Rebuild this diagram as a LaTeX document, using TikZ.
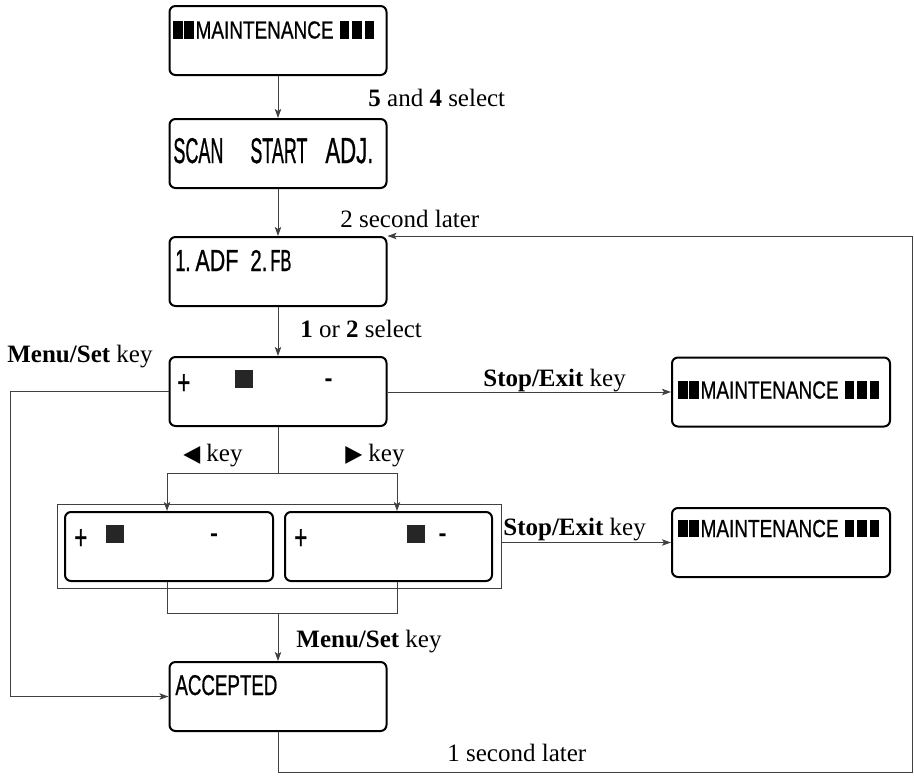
\documentclass[tikz,border=0pt]{standalone}
\usepackage{fontspec}
\usepackage{graphicx}
\setmainfont{Liberation Serif}
\newfontface\lcd{Liberation Sans}[FakeBold=1]
\newfontface\lcdb{Liberation Sans Bold}
\newfontfamily\dvs{DejaVu Sans}
\usetikzlibrary{arrows.meta}

\newcommand{\mbar}{\rule{4.75pt}{8.6pt}}
\newcommand{\maint}{\mbar\hspace{0.75pt}\mbar\hspace{0.85pt}\resizebox{69pt}{8.6pt}{\lcd MAINTENANCE}\hspace{3pt}\mbar\hspace{1.5pt}\mbar\hspace{1.5pt}\mbar}
\newcommand{\lplus}{\scalebox{0.65}[1]{\lcd\fontsize{17}{17}\selectfont +}}
\newcommand{\lminus}{{\lcdb\fontsize{12}{12}\selectfont -}}

\begin{document}
\begin{tikzpicture}[x=0.5pt,y=-0.5pt,
  lcdbox/.style={draw=black,line width=1pt,rounded corners=3pt,minimum width=108.5pt,minimum height=34.5pt,inner sep=0pt},
  conn/.style={draw=black!75,line width=0.5pt},
  arr/.style={conn,-{Stealth[length=4.5pt,width=3.2pt,inset=1pt]}},
  txt/.style={anchor=base west,inner sep=0pt,font=\fontsize{12.5}{15}\selectfont},
  lcdtxt/.style={anchor=base west,inner sep=0pt},
  sq/.style={fill=black!85,minimum size=9pt,inner sep=0pt},
  minusmark/.style={anchor=base,inner sep=0pt}]
\useasboundingbox (0,0) rectangle (914,776);

% boxes
\node[lcdbox] (b1) at (278,40.5) {};
\node[lcdbox] (b2) at (278,153.5) {};
\node[lcdbox] (b3) at (278,271.5) {};
\node[lcdbox] (b4) at (278,391.5) {};
\node[lcdbox,minimum width=109pt] (b5) at (781,392) {};
\node[lcdbox,minimum width=109pt] (b6) at (781,542.5) {};
\node[draw=black!75,line width=0.5pt,minimum width=222pt,minimum height=42pt,inner sep=0pt] (grp) at (279,546) {};
\node[lcdbox,minimum width=104pt] (s1) at (169,546.5) {};
\node[lcdbox,minimum width=103.5pt] (s2) at (388.5,546.5) {};
\node[lcdbox] (acc) at (278,696.5) {};

% box texts
\node[lcdtxt] (t1) at (173,38.5) {\maint};
\node[lcdtxt] (t5) at (678,398.5) {\maint};
\node[lcdtxt] (t6) at (678,537) {\maint};
\node[lcdtxt] (t2) at (173,163) {\lcd\resizebox{25pt}{12.5pt}{SCAN}\hspace{13.5pt}\resizebox{28.5pt}{12.5pt}{START}\hspace{9pt}\resizebox{24pt}{12.5pt}{ADJ.}};
\node[lcdtxt] (t3) at (175,271) {\lcd\resizebox{7.5pt}{10.5pt}{1.}\hspace{2.5pt}\resizebox{21.5pt}{10.5pt}{ADF}\hspace{6pt}\resizebox{8.5pt}{10.5pt}{2.}\hspace{1.5pt}\resizebox{10.5pt}{10.5pt}{FB}};
\node[lcdtxt] (t7) at (175,695) {\lcd\resizebox{51pt}{10pt}{ACCEPTED}};

\node[lcdtxt] (p4) at (177,394) {\lplus};
\node[sq] (q4) at (244,379) {};
\node[minusmark] (m4) at (328.5,386) {\lminus};
\node[lcdtxt] (p1) at (74,549) {\lplus};
\node[sq] (q1) at (114.5,534) {};
\node[minusmark] (m1) at (214,541) {\lminus};
\node[lcdtxt] (p2) at (294,549) {\lplus};
\node[sq] (q2) at (416,534) {};
\node[minusmark] (m2) at (442.5,541) {\lminus};

% labels
\node[txt] (l1) at (368,106) {\textbf{5} and \textbf{4} select};
\node[txt] (l2) at (340,227) {2 second later};
\node[txt] (l3) at (300,337) {\textbf{1} or \textbf{2} select};
\node[txt] (l4) at (7,362) {\textbf{Menu/Set} key};
\node[txt] (l5) at (483,386) {\textbf{Stop/Exit} key};
\node[txt] (l6) at (183,461) {\resizebox{8.5pt}{7.5pt}{\dvs ◀}\hspace{3pt}key};
\node[txt] (l7) at (345,461) {\resizebox{8.5pt}{7.5pt}{\dvs ▶}\hspace{3pt}key};
\node[txt] (l8) at (503,535) {\textbf{Stop/Exit} key};
\node[txt] (l9) at (296,647) {\textbf{Menu/Set} key};
\node[txt] (l10) at (447,761) {1 second later};

% connectors
\draw[arr] (b1.south) -- (b2.north);
\draw[arr] (b2.south) -- (b3.north);
\draw[arr] (b3.south) -- (b4.north);
\draw[arr] (b4.east |- b5.west) -- (b5.west);
\draw[arr] (grp.east |- b6.west) -- (b6.west);
\coordinate (lx) at (10,0);
\draw[arr] (b4.west) -- (b4.west -| lx) -- (lx |- acc.west) -- (acc.west);
\coordinate (sp) at (278,473);
\coordinate (la) at (167,473);
\coordinate (ra) at (397,473);
\draw[conn] (b4.south) -- (sp);
\draw[conn] (la) -- (ra);
\draw[arr] (la) -- (la |- s1.north);
\draw[arr] (ra) -- (ra |- s2.north);
\coordinate (mg) at (278,613);
\draw[conn] (la |- s1.south) -- (la |- mg) -- (ra |- mg) -- (ra |- s2.south);
\draw[arr] (mg) -- (acc.north);
\coordinate (rc) at (912,772);
\draw[arr] (acc.south) -- (acc.south |- rc) -- (rc) -- (rc |- b3.north east) -- (b3.north east);
\end{tikzpicture}
\end{document}
